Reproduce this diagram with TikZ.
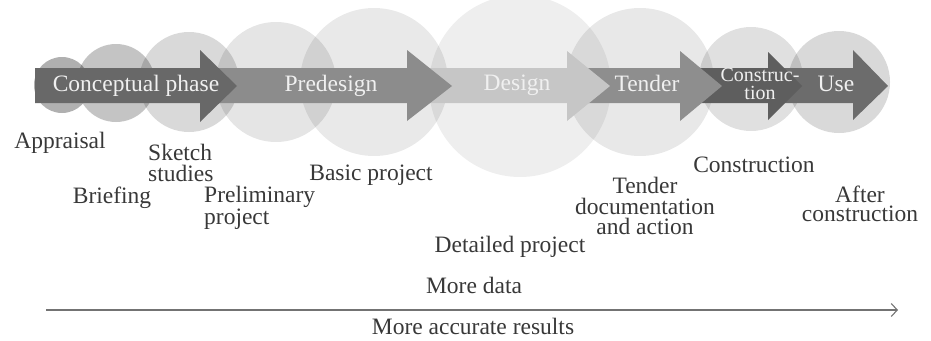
\documentclass[tikz,border=0pt]{standalone}
\usepackage{fontspec}
\setmainfont{Liberation Serif}
\usetikzlibrary{arrows.meta}
\definecolor{txt}{HTML}{383838}
\definecolor{aone}{HTML}{686868}
\definecolor{atwo}{HTML}{8C8C8C}
\definecolor{athree}{HTML}{C6C6C6}
\definecolor{afour}{HTML}{8E8E8E}
\definecolor{afive}{HTML}{5E5E5E}
\definecolor{asix}{HTML}{6C6C6C}
\tikzset{
  bubble/.style={fill=black, draw=none},
  lbl/.style={text=txt, inner sep=0pt, font=\fontsize{23.5}{20.5}\selectfont},
  atxt/.style={text=white!94!black, inner sep=0pt, font=\fontsize{23.5}{20}\selectfont, anchor=base},
}
\begin{document}
\begin{tikzpicture}[x=1pt,y=-1pt]
\useasboundingbox (0,0) rectangle (931,340);
% bubbles
\fill[bubble, fill opacity=0.31] (62,85) circle (28);
\fill[bubble, fill opacity=0.23] (116,83) circle (39);
\fill[bubble, fill opacity=0.15] (189,82) circle (50);
\fill[bubble, fill opacity=0.10] (276,82) circle (60);
\fill[bubble, fill opacity=0.085] (374,82) circle (74);
\fill[bubble, fill opacity=0.065] (520,86) circle (91);
\fill[bubble, fill opacity=0.09] (640,82) circle (74);
\fill[bubble, fill opacity=0.12] (751,79) circle (52);
\fill[bubble, fill opacity=0.15] (839,82) circle (51);
% arrows (drawn last to first)
\fill[asix] (768,68) -- (853,68) -- (853,50) -- (888,86) -- (853,120) -- (853,103) -- (768,103) -- cycle;
\fill[afive] (680,68) -- (768,68) -- (768,52) -- (802,86) -- (768,120) -- (768,103) -- (680,103) -- cycle;
\fill[afour] (567,68) -- (680,68) -- (680,51) -- (722,86) -- (680,121) -- (680,103) -- (567,103) -- cycle;
\fill[athree] (407,68) -- (567,68) -- (567,51) -- (610,86) -- (567,121) -- (567,103) -- (407,103) -- cycle;
\fill[atwo] (200,68) -- (407,68) -- (407,50) -- (452,86) -- (407,121) -- (407,103) -- (200,103) -- cycle;
\fill[aone] (35,68) -- (200,68) -- (200,50) -- (237,86) -- (200,122) -- (200,103) -- (35,103) -- cycle;
% arrow labels
\node[atxt] (concept) at (136,91) {Conceptual phase};
\node[atxt] (predesign) at (331,91) {Predesign};
\node[atxt] (design) at (517,90) {Design};
\node[atxt] (tender) at (647,91) {Tender};
\node[atxt, anchor=north, align=center, font=\fontsize{20}{18}\selectfont] (constr) at (760,68.5) {Construc-\\tion};
\node[atxt] (use) at (836,91) {Use};
% labels below
\node[lbl, anchor=base] (appraisal) at (60,148) {Appraisal};
\node[lbl, anchor=base] (briefing) at (112,203) {Briefing};
\node[lbl, anchor=north west, align=left] (sketch) at (148,144) {Sketch\\studies};
\node[lbl, anchor=north west, align=left, font=\fontsize{23.5}{19}\selectfont] (prelim) at (204,186) {Preliminary\\project};
\node[lbl, anchor=base] (basic) at (371,180) {Basic project};
\node[lbl, anchor=base] (detailed) at (510,252) {Detailed project};
\node[lbl, anchor=north, align=center] (tdoc) at (645,177) {Tender\\documentation\\and action};
\node[lbl, anchor=base] (constrl) at (754,172) {Construction};
\node[lbl, anchor=north, align=center, font=\fontsize{23.5}{18.5}\selectfont] (after) at (860,186) {After\\construction};
% bottom axis
\node[lbl, anchor=base] (moredata) at (474,293) {More data};
\node[lbl, anchor=base] (moreacc) at (473,334) {More accurate results};
\coordinate (axs) at (46,310);
\coordinate (axe) at (898,310);
\draw[draw=black!55, line width=1.2pt, -{Straight Barb[length=6pt,width=13pt,line width=1.1pt]}] (axs) -- (axe);
\end{tikzpicture}
\end{document}
